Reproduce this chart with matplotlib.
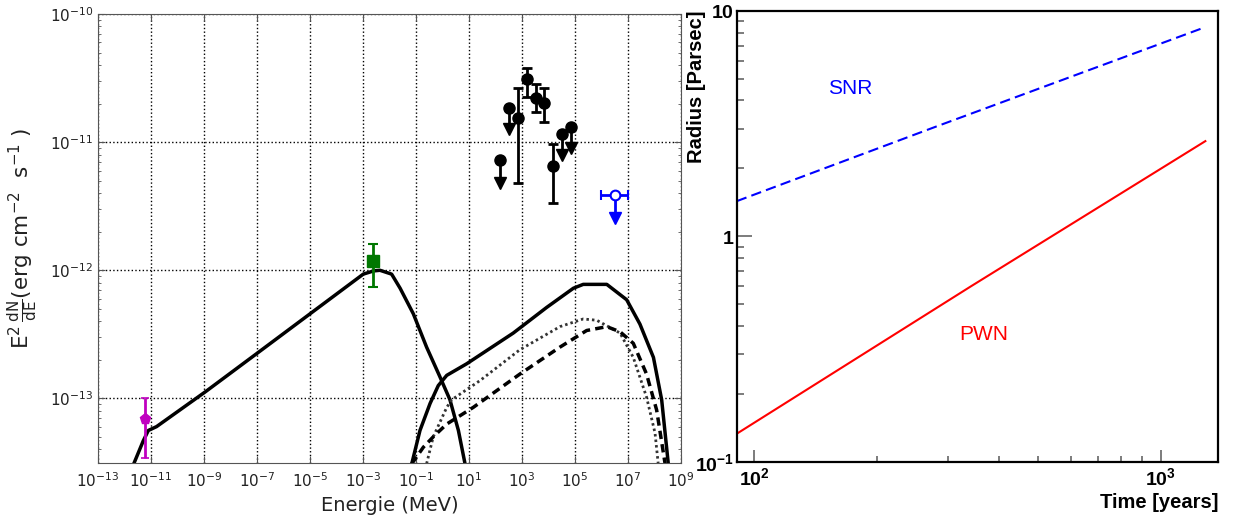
import numpy as np
import matplotlib
matplotlib.use('Agg')
import matplotlib.pyplot as plt
from matplotlib.ticker import FixedLocator, NullLocator, NullFormatter, LogLocator

plt.rcParams['font.family'] = ['DejaVu Sans']
plt.rcParams['mathtext.fontset'] = 'custom'
plt.rcParams['mathtext.rm'] = 'DejaVu Sans'
plt.rcParams['mathtext.it'] = 'DejaVu Sans:italic'
plt.rcParams['mathtext.bf'] = 'Liberation Sans:bold'

# ---- left panel: SED (log10 of energy in MeV, log10 of flux) ----
sync_logE = [-11.67, -11.29, -11.10, -10.79, -8.96, -7.01, -5.00, -2.99, -2.60, -2.36,
             -1.92, -1.60, -1.10, -0.60, -0.10, 0.28, 0.60, 0.85]
sync_logF = [-13.52, -13.33, -13.25, -13.22, -12.95, -12.65, -12.34, -12.03, -12.005, -12.0,
             -12.03, -12.14, -12.34, -12.60, -12.83, -13.01, -13.25, -13.51]

ic_logE = [-1.16, -0.85, -0.47, -0.16, 0.16, 0.91, 2.67, 3.93, 4.94, 5.31, 6.20, 6.95, 7.45, 7.96, 8.27, 8.52]
ic_logF = [-13.51, -13.25, -13.04, -12.90, -12.82, -12.73, -12.49, -12.29, -12.14, -12.11, -12.11,
           -12.23, -12.42, -12.68, -13.01, -13.51]

dot_logE = [-0.60, -0.35, 0.16, 0.35, 1.42, 2.92, 4.43, 5.31, 5.82, 6.70, 7.20, 7.70, 8.02, 8.14]
dot_logF = [-13.51, -13.30, -13.07, -13.01, -12.86, -12.62, -12.44, -12.38, -12.39, -12.49, -12.68,
            -12.99, -13.27, -13.51]

dash_logE = [-1.16, -0.72, -0.35, 0.16, 1.16, 2.92, 4.43, 5.44, 6.20, 6.70, 7.20, 7.70, 8.08, 8.40]
dash_logF = [-13.51, -13.38, -13.30, -13.20, -13.07, -12.81, -12.60, -12.47, -12.44, -12.48, -12.57,
             -12.81, -13.09, -13.51]

radio_logE, radio_logF, radio_lo, radio_hi = -11.226, -13.161, -13.468, -13.0
xray_logE, xray_logF, xray_lo, xray_hi = -2.61, -11.928, -12.130, -11.792

fermi_logE = [2.85, 3.19, 3.53, 3.83, 4.17]
fermi_logF = [-10.815, -10.511, -10.652, -10.691, -11.189]
fermi_lo = [-11.322, -10.644, -10.768, -10.839, -11.477]
fermi_hi = [-10.581, -10.418, -10.550, -10.581, -11.017]

ul_logE = [2.17, 2.51, 4.51, 4.85]
ul_logF = [-11.143, -10.73, -10.94, -10.878]
ul_tip = [-11.318, -10.901, -11.104, -11.045]

hess_logE, hess_Elo, hess_Ehi = 6.51, 5.97, 7.00
hess_logF, hess_tip = -11.415, -11.591

# ---- right panel: radius vs time ----
snr_t = [90.5, 277, 1261]
snr_r = [1.43, 3.04, 8.34]
pwn_t = [90.5, 340, 1288]
pwn_r = [0.133, 0.597, 2.64]


def p(v):
    return 10.0 ** np.asarray(v, dtype=float)


fig = plt.figure(figsize=(12.38, 5.26), dpi=100)

# left axes
ax = fig.add_axes([98 / 1238, 1 - 463 / 526, (681 - 98) / 1238, (463 - 14) / 526])
ax.set_xscale('log')
ax.set_yscale('log')

ax.plot(p(sync_logE), p(sync_logF), color='k', lw=2.5, solid_joinstyle='round')
ax.plot(p(ic_logE), p(ic_logF), color='k', lw=2.5, solid_joinstyle='round')
ax.plot(p(dot_logE), p(dot_logF), color='#333333', lw=2.0, ls=(0, (0.9, 1.1)))
ax.plot(p(dash_logE), p(dash_logF), color='k', lw=2.5, ls=(0, (2.4, 1.5)))

ax.errorbar(p(radio_logE), p(radio_logF),
            yerr=[[p(radio_logF) - p(radio_lo)], [p(radio_hi) - p(radio_logF)]],
            fmt='p', color='#c000c0', ms=8, lw=2, capsize=3, capthick=1.2)
ax.errorbar(p(xray_logE), p(xray_logF),
            yerr=[[p(xray_logF) - p(xray_lo)], [p(xray_hi) - p(xray_logF)]],
            fmt='s', color='#007700', ms=9, lw=2, capsize=3.5, capthick=1.5)

fF = p(fermi_logF)
ax.errorbar(p(fermi_logE), fF, yerr=[fF - p(fermi_lo), p(fermi_hi) - fF],
            fmt='o', color='k', ms=8, lw=2, capsize=3.5, capthick=2)
for e, f, t in zip(ul_logE, ul_logF, ul_tip):
    ax.plot([p(e), p(e)], [p(f), p(t)], color='k', lw=2)
    ax.plot(p(e), p(t), marker='v', color='k', ms=9)
    ax.plot(p(e), p(f), marker='o', color='k', ms=8)

ax.plot([p(hess_logE), p(hess_logE)], [p(hess_logF), p(hess_tip)], color='#0000ff', lw=2)
ax.plot(p(hess_logE), p(hess_tip), marker='v', color='#0000ff', ms=9)
ax.errorbar(p(hess_logE), p(hess_logF),
            xerr=[[p(hess_logE) - p(hess_Elo)], [p(hess_Ehi) - p(hess_logE)]],
            fmt='o', color='#0000ff', mfc='white', mec='#0000ff', mew=1.5, ms=7,
            lw=2, capsize=3.5, capthick=2)

ax.set_xlim(1e-13, 1e9)
ax.set_ylim(p(-13.504), 1e-10)
ax.xaxis.set_major_locator(FixedLocator(p(np.arange(-13, 10, 2))))
ax.xaxis.set_minor_locator(NullLocator())
ax.yaxis.set_major_locator(FixedLocator(p([-13, -12, -11, -10])))
ax.yaxis.set_minor_locator(LogLocator(base=10, subs=np.arange(2, 10)))
ax.yaxis.set_minor_formatter(NullFormatter())
ax.grid(True, which='major', ls=':', color='k', lw=1)
ax.tick_params(which='both', direction='in', right=True, top=True, colors='#555555',
               labelcolor='#222222', labelsize=11)
ax.tick_params(which='major', length=5)
ax.tick_params(which='minor', length=2.5)
ax.tick_params(axis='x', pad=6)
for s in ax.spines.values():
    s.set_color('#555555')
ax.set_xlabel('Energie (MeV)', fontsize=14, color='#222222')
ax.set_ylabel(r'$\mathrm{E^2\,\frac{dN}{dE}(erg\ cm^{-2}\ \ s^{-1}\ )}$', fontsize=15.5, color='#222222')
ax.yaxis.set_label_coords(-0.1, 0.5)

# right axes
ax2 = fig.add_axes([736.7 / 1238, 1 - 461.7 / 526, (1218.3 - 736.7) / 1238, (461.7 - 10.7) / 526])
ax2.set_xscale('log')
ax2.set_yscale('log')
ax2.plot(snr_t, snr_r, color='#0000ff', lw=1.5, ls=(0, (5, 2.5)))
ax2.plot(pwn_t, pwn_r, color='#ff0000', lw=1.5)
ax2.text(172, 4.54, 'SNR', color='#0000ff', fontsize=15, family='Liberation Sans',
         ha='center', va='center')
ax2.text(367, 0.365, 'PWN', color='#ff0000', fontsize=15, family='Liberation Sans',
         ha='center', va='center')

ax2.set_xlim(90.5, 1386)
ax2.set_ylim(0.1, 10)
ax2.set_xticks([100, 1000], labels=[r'$\mathbf{10^{2}}$', r'$\mathbf{10^{3}}$'])
ax2.set_yticks([0.1, 1, 10], labels=[r'$\mathbf{10^{-1}}$', r'$\mathbf{1}$', r'$\mathbf{10}$'])
ax2.xaxis.set_minor_locator(LogLocator(base=10, subs=np.arange(2, 10)))
ax2.yaxis.set_minor_locator(LogLocator(base=10, subs=np.arange(2, 10)))
ax2.xaxis.set_minor_formatter(NullFormatter())
ax2.yaxis.set_minor_formatter(NullFormatter())
ax2.tick_params(which='both', direction='in', colors='#666666', labelcolor='k', width=1.2)
ax2.tick_params(axis='y', which='major', length=11, pad=2, labelsize=14)
ax2.tick_params(axis='y', which='minor', length=5)
ax2.tick_params(axis='x', which='major', length=8.5, pad=4, labelsize=14)
ax2.tick_params(axis='x', which='minor', length=4.3)
for s in ax2.spines.values():
    s.set_color('k')
    s.set_linewidth(1.6)
ax2.set_xlabel('Time [years]', fontsize=14.5, fontweight='bold', family='Liberation Sans', loc='right')
ax2.xaxis.set_label_coords(1.0, -0.07)
ax2.set_ylabel('Radius [Parsec]', fontsize=14.5, fontweight='bold', family='Liberation Sans', loc='top')
ax2.yaxis.set_label_coords(-0.064, 1.0)

fig.savefig('out.png', dpi=100)
